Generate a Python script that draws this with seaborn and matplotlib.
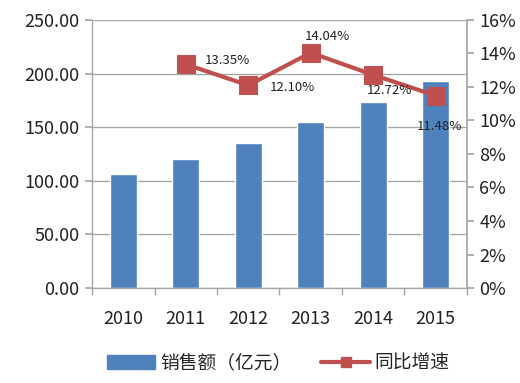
import numpy as np
import pandas as pd
import seaborn as sns
import matplotlib.pyplot as plt
from matplotlib.lines import Line2D
from matplotlib.patches import Patch
from matplotlib.ticker import FuncFormatter, FixedLocator

# ── Data ──────────────────────────────────────────────────────────────────────
years   = ["2010", "2011", "2012", "2013", "2014", "2015"]
sales   = [106.5, 120.5, 134.8, 154.5, 173.2, 193.5]
growth_years = ["2011", "2012", "2013", "2014", "2015"]
growth  = [13.35, 12.10, 14.04, 12.72, 11.48]

bar_label  = "销售额（亿元）"
line_label = "同比增速"

# label offsets (pixels) for the growth data labels
label_offsets = [(42, -4), (44, 2), (17, -16), (16, 16), (4, 31)]

BLUE = "#4F81BD"
RED  = "#C0504D"
GRID = "#A6A6A6"

sns.set_theme(style="white")
plt.rcParams["font.family"] = ["Noto Sans CJK SC", "DejaVu Sans"]

fig = plt.figure(figsize=(5.2, 3.83), dpi=100)
ax = fig.add_axes([0.177, 0.248, 0.721, 0.700])

df = pd.DataFrame({"year": years, "sales": sales})
sns.barplot(data=df, x="year", y="sales", color=BLUE, saturation=1,
            width=0.43, ax=ax, zorder=2)
ax.set_ylim(0, 250)
ax.set_xlim(-0.5, 5.5)
ax.set_yticks(np.arange(0, 251, 50))
ax.yaxis.set_major_formatter(FuncFormatter(lambda v, p: f"{v:.2f}"))
ax.set_xlabel(""); ax.set_ylabel("")
ax.grid(axis="y", color=GRID, linewidth=1, zorder=0)
ax.set_axisbelow(True)

for s in ["top", "right"]:
    ax.spines[s].set_visible(False)
for s in ["left", "bottom"]:
    ax.spines[s].set_color(GRID)
    ax.spines[s].set_linewidth(1)
ax.tick_params(axis="y", which="major", left=True, length=5, color=GRID,
               labelsize=13, pad=4, labelcolor="#222222")
ax.tick_params(axis="x", which="major", bottom=False, labelsize=13, pad=10,
               labelcolor="#222222")
ax.xaxis.set_minor_locator(FixedLocator(np.arange(-0.5, 6, 1)))
ax.tick_params(axis="x", which="minor", bottom=True, length=5, color=GRID)

# ── Growth line on secondary axis ────────────────────────────────────────────
ax2 = ax.twinx()
gx = [years.index(y) for y in growth_years]
sns.lineplot(x=gx, y=growth, ax=ax2, color=RED, linewidth=3,
             marker="s", markersize=12.5, markeredgecolor=RED, zorder=3)
ax2.set_ylim(0, 16)
ax2.set_yticks(np.arange(0, 17, 2))
ax2.yaxis.set_major_formatter(FuncFormatter(lambda v, p: f"{v:.0f}%"))
for s in ["top", "left", "bottom"]:
    ax2.spines[s].set_visible(False)
ax2.spines["right"].set_color(GRID)
ax2.tick_params(axis="y", right=True, length=5, color=GRID, labelsize=13,
                pad=4, labelcolor="#222222")
ax2.set_ylabel("")
ax2.grid(False)

for x, v, (dx, dy) in zip(gx, growth, label_offsets):
    ax2.annotate(f"{v:.2f}%", (x, v), xytext=(dx * 0.72, -dy * 0.72),
                 textcoords="offset points", ha="center", va="center",
                 fontsize=9.5, color="#222222", zorder=4)

# ── Legend ───────────────────────────────────────────────────────────────────
handles = [Patch(facecolor=BLUE, edgecolor=BLUE),
           Line2D([0], [0], color=RED, linewidth=3, marker="s", markersize=7)]
fig.legend(handles, [bar_label, line_label], loc="center",
           bbox_to_anchor=(0.535, 0.052), ncol=2, frameon=False, fontsize=13.5,
           handlelength=2.6, handleheight=0.8, columnspacing=1.6,
           handletextpad=0.25)

fig.savefig("out.png", dpi=100)
